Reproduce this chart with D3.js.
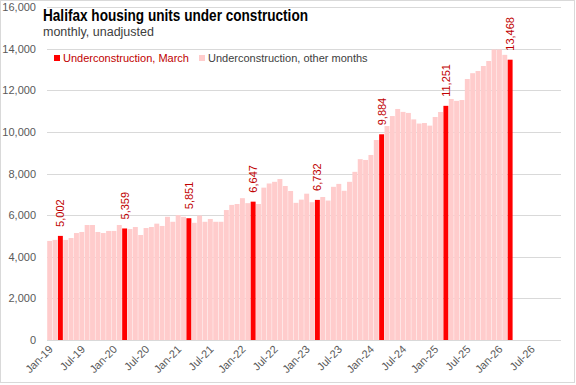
<!DOCTYPE html>
<html>
<head>
<meta charset="utf-8">
<script src="https://cdn.jsdelivr.net/npm/d3@7"></script>
<style>
	body { margin: 0; background: #fff; }
	svg { display: block; font-family: "Liberation Sans", Arial, sans-serif; }
	.grid line { stroke: #d9d9d9; stroke-width: 1; }
	.ylab text, .xlab text { fill: #595959; font-size: 11px; }
</style>
</head>
<body>
<svg id="chart" width="576" height="385"></svg>
<script>
(function(d3) {
	'use strict';

	// monthly units under construction, Jan-19 .. Mar-26
	var units = [
		4760, 4810, 5002, 4810, 4900, 5140, 5190, 5525, 5525, 5190, 5140, 5240,
		5240, 5525, 5359, 5330, 5430, 5045, 5380, 5430, 5590, 5480, 5920, 5680,
		6000, 5920, 5851, 5630, 5980, 5680, 5815, 5680, 5680, 6245, 6490, 6535,
		6815, 6575, 6647, 6535, 7320, 7520, 7600, 7735, 7400, 7160, 6590, 6745,
		7030, 6620, 6732, 6870, 6700, 7360, 7500, 7170, 7600, 8080, 8690, 8650,
		8890, 9610, 9884, 10280, 10760, 11100, 10960, 10910, 10600, 10400, 10425, 10300,
		10715, 10955, 11251, 11580, 11490, 11530, 12540, 12820, 12925, 13165, 13405, 13960,
		13960, 13700, 13468
	];
	var yTicks = [0, 2000, 4000, 6000, 8000, 10000, 12000, 14000, 16000];
	var xTickLabels = ['Jan-19', 'Jul-19', 'Jan-20', 'Jul-20', 'Jan-21', 'Jul-21', 'Jan-22', 'Jul-22',
		'Jan-23', 'Jul-23', 'Jan-24', 'Jul-24', 'Jan-25', 'Jul-25', 'Jan-26', 'Jul-26'];
	var seriesNames = ['Underconstruction, March', 'Underconstruction, other months'];

	var fmtMonth = d3.timeFormat('%b-%y');
	var months = d3.timeMonth.range(new Date(2019, 0, 1), new Date(2027, 0, 1)).map(fmtMonth);
	var rows = units.map(function(v, i) {
		return { month: months[i], value: v, march: months[i].indexOf('Mar') === 0 };
	});

	var svg = d3.select('#chart');
	var left = 47, right = 561, top = 7, bottom = 340;

	var x = d3.scaleBand().domain(months).range([left, right]).paddingInner(0.08).paddingOuter(0.04);
	var y = d3.scaleLinear().domain([0, 16000]).range([bottom, top]);

	/** chart border */
	svg.append('rect').attr('x', 0.5).attr('y', 0.5).attr('width', 574).attr('height', 382)
		.attr('fill', 'none').attr('stroke', '#d9d9d9');

	/** gridlines */
	svg.append('g').attr('class', 'grid').selectAll('line').data(yTicks).enter().append('line')
		.attr('x1', left).attr('x2', right)
		.attr('y1', function(d) { return Math.round(y(d)) + 0.5; })
		.attr('y2', function(d) { return Math.round(y(d)) + 0.5; });

	/** y labels */
	var yAxis = d3.axisLeft(y).tickValues(yTicks).tickSize(0).tickPadding(11).tickFormat(d3.format(','));
	var gy = svg.append('g').attr('class', 'ylab').attr('transform', 'translate(' + left + ',0)').call(yAxis);
	gy.select('.domain').remove();
	gy.selectAll('text').attr('fill', '#595959').style('font-size', '11px');

	/** bars */
	var bars = svg.append('g').selectAll('rect').data(rows).enter().append('rect')
		.attr('x', function(d) { return x(d.month); })
		.attr('width', x.bandwidth())
		.attr('y', function(d) { return y(d.value); })
		.attr('height', function(d) { return bottom - y(d.value); })
		.attr('fill', function(d) { return d.march ? '#ff0000' : '#ffcccc'; });

	/** march labels */
	svg.append('g').selectAll('text').data(rows.filter(function(d) { return d.march; })).enter().append('text')
		.attr('transform', function(d) {
			var cx = x(d.month) + x.bandwidth() / 2 + 4;
			return 'translate(' + cx + ',' + (y(d.value) - 9) + ') rotate(-90)';
		})
		.attr('fill', '#c00000').style('font-size', '11px')
		.text(function(d) { return d3.format(',')(d.value); });

	/** x axis */
	svg.append('line').attr('x1', left).attr('x2', right).attr('y1', bottom + 0.5).attr('y2', bottom + 0.5)
		.attr('stroke', '#d9d9d9');
	svg.append('g').attr('class', 'xlab').selectAll('text').data(xTickLabels).enter().append('text')
		.attr('transform', function(d) {
			var cx = x(d) + x.bandwidth() / 2 + 4;
			return 'translate(' + cx + ',' + (bottom + 10) + ') rotate(-45)';
		})
		.attr('text-anchor', 'end').attr('fill', '#595959').style('font-size', '11px')
		.text(function(d) { return d; });

	/** title */
	svg.append('text').attr('x', 43).attr('y', 21).attr('fill', '#000')
		.style('font-size', '16px').style('font-weight', 'bold')
		.attr('textLength', 265).attr('lengthAdjust', 'spacingAndGlyphs')
		.text('Halifax housing units under construction');
	svg.append('text').attr('x', 43).attr('y', 36).attr('fill', '#404040')
		.style('font-size', '12.5px').text('monthly, unadjusted');

	/** legend */
	var legend = svg.append('g');
	legend.append('rect').attr('x', 54).attr('y', 55).attr('width', 6).attr('height', 6).attr('fill', '#ff0000');
	legend.append('text').attr('x', 63).attr('y', 62).attr('fill', '#c00000').style('font-size', '11px')
		.text(seriesNames[0]);
	legend.append('rect').attr('x', 199).attr('y', 55).attr('width', 6).attr('height', 6).attr('fill', '#ffcccc');
	legend.append('text').attr('x', 208).attr('y', 62).attr('fill', '#404040').style('font-size', '11px')
		.text(seriesNames[1]);
})(d3);
</script>
</body>
</html>
